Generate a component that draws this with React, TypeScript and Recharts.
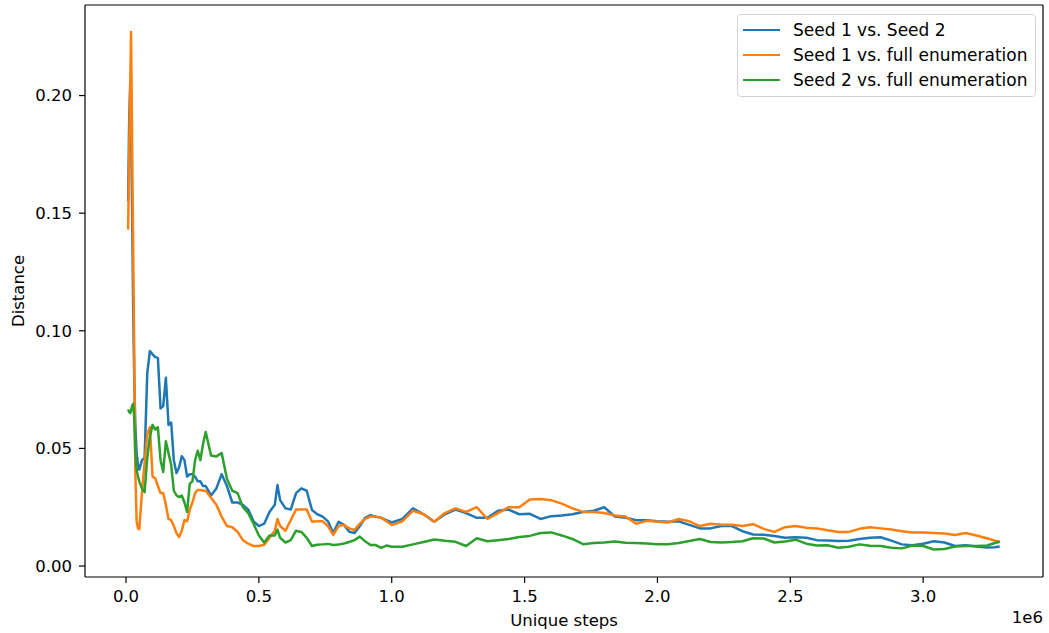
import { LineChart, Line, XAxis, YAxis, Legend, Label } from "recharts"

// unique steps, in millions (the axis shows the 1e6 offset)
const STEPS = [
  0.008, 0.012, 0.016, 0.019, 0.023, 0.027, 0.031, 0.035, 0.04, 0.045, 0.05,
  0.06, 0.07, 0.08, 0.09, 0.1, 0.11, 0.12, 0.13, 0.14, 0.15, 0.16, 0.17, 0.18, 0.19, 0.2,
  0.21, 0.22, 0.23, 0.24, 0.25, 0.26, 0.27, 0.28, 0.29, 0.3,
  0.32, 0.34, 0.36, 0.38, 0.4, 0.42, 0.44, 0.46, 0.48, 0.5, 0.52, 0.54, 0.56, 0.57, 0.58,
  0.6, 0.62, 0.64, 0.66, 0.68, 0.7, 0.72, 0.74, 0.76, 0.78, 0.8, 0.82, 0.84, 0.86, 0.88,
  0.9, 0.92, 0.94, 0.96, 0.98, 1.0,
  1.04, 1.08, 1.12, 1.16, 1.2, 1.24, 1.28, 1.32, 1.36, 1.4, 1.44, 1.48, 1.52, 1.56, 1.6,
  1.64, 1.68, 1.72, 1.76, 1.8, 1.84, 1.88, 1.92, 1.96, 2.0, 2.04, 2.08, 2.12, 2.16, 2.2,
  2.24, 2.28, 2.32, 2.36, 2.4, 2.44, 2.48, 2.52, 2.56, 2.6, 2.64, 2.68, 2.72, 2.76, 2.8,
  2.84, 2.88, 2.92, 2.96, 3.0, 3.04, 3.08, 3.12, 3.16, 3.2, 3.24, 3.27, 3.288,
]

const SEED1_VS_SEED2 = [
  0.155, 0.19, 0.205, 0.19, 0.15, 0.11, 0.08, 0.06, 0.048, 0.043, 0.041,
  0.045, 0.046, 0.082, 0.0914, 0.09, 0.0888, 0.0885, 0.067, 0.068, 0.08, 0.06, 0.061, 0.045, 0.0395, 0.042,
  0.0467, 0.045, 0.038, 0.039, 0.039, 0.038, 0.036, 0.036, 0.034, 0.034,
  0.03, 0.033, 0.039, 0.034, 0.027, 0.027, 0.026, 0.024, 0.019, 0.017, 0.018, 0.023, 0.026, 0.0344, 0.028,
  0.0245, 0.024, 0.031, 0.033, 0.032, 0.0238, 0.022, 0.021, 0.019, 0.014, 0.0188, 0.0175, 0.0146, 0.014, 0.017,
  0.0205, 0.0216, 0.021, 0.0205, 0.0195, 0.0185,
  0.02, 0.0245, 0.022, 0.0188, 0.022, 0.024, 0.0225, 0.0205, 0.0205, 0.0235, 0.024, 0.022, 0.0222, 0.02, 0.0212,
  0.0215, 0.022, 0.023, 0.0235, 0.025, 0.021, 0.0205, 0.0195, 0.0195, 0.019, 0.0188, 0.019, 0.0175, 0.016, 0.016,
  0.017, 0.017, 0.0148, 0.0134, 0.0133, 0.0128, 0.012, 0.0122, 0.012, 0.011, 0.0108, 0.0106, 0.0107, 0.0115, 0.012,
  0.0122, 0.0108, 0.0092, 0.0088, 0.0095, 0.0105, 0.01, 0.0085, 0.0088, 0.0083, 0.0079, 0.008, 0.0083,
]

const SEED1_VS_FULL = [
  0.143, 0.175, 0.205, 0.227, 0.18, 0.135, 0.09, 0.04, 0.019, 0.016, 0.0157,
  0.031, 0.044, 0.056, 0.059, 0.038, 0.0373, 0.034, 0.031, 0.031, 0.026, 0.02, 0.0195, 0.017, 0.014, 0.0123,
  0.015, 0.0195, 0.019, 0.024, 0.027, 0.031, 0.0323, 0.0323, 0.032, 0.032,
  0.029, 0.026, 0.021, 0.017, 0.0165, 0.0145, 0.011, 0.0095, 0.0085, 0.0085, 0.009, 0.012, 0.015, 0.02, 0.017,
  0.015, 0.0195, 0.024, 0.024, 0.024, 0.0188, 0.019, 0.019, 0.017, 0.0132, 0.017, 0.0175, 0.016, 0.0153, 0.018,
  0.02, 0.021, 0.021, 0.0205, 0.019, 0.0174,
  0.019, 0.0235, 0.022, 0.0188, 0.0225, 0.0245, 0.023, 0.025, 0.02, 0.0225, 0.025, 0.025, 0.0283, 0.0285, 0.028,
  0.0265, 0.0245, 0.023, 0.023, 0.0225, 0.0215, 0.021, 0.018, 0.0192, 0.0188, 0.0185, 0.02, 0.019, 0.017, 0.018,
  0.0175, 0.0175, 0.017, 0.0178, 0.0158, 0.0145, 0.0165, 0.017, 0.0163, 0.016, 0.0152, 0.0145, 0.0145, 0.0158, 0.0165,
  0.016, 0.0155, 0.0148, 0.0142, 0.0142, 0.014, 0.0138, 0.0132, 0.014, 0.013, 0.0118, 0.0108, 0.0103,
]

const SEED2_VS_FULL = [
  0.0666, 0.0655, 0.065, 0.066, 0.068, 0.069, 0.063, 0.048, 0.041, 0.038, 0.036,
  0.033, 0.0314, 0.046, 0.055, 0.06, 0.058, 0.059, 0.045, 0.04, 0.053, 0.048, 0.043, 0.032, 0.03, 0.0293,
  0.03, 0.027, 0.023, 0.035, 0.036, 0.045, 0.049, 0.045, 0.052, 0.057,
  0.047, 0.0466, 0.048, 0.037, 0.032, 0.031, 0.025, 0.0225, 0.018, 0.013, 0.01, 0.013, 0.013, 0.0155, 0.012,
  0.01, 0.011, 0.015, 0.0145, 0.012, 0.0085, 0.009, 0.0092, 0.0094, 0.0089, 0.0091, 0.0096, 0.0102, 0.011, 0.0125,
  0.0105, 0.0089, 0.0089, 0.0077, 0.0087, 0.0082,
  0.0082, 0.0092, 0.0102, 0.0113, 0.0107, 0.0103, 0.0085, 0.0118, 0.0105, 0.011, 0.0115, 0.0123, 0.0128, 0.014, 0.0143,
  0.013, 0.0115, 0.0093, 0.0098, 0.01, 0.0104, 0.0099, 0.0098, 0.0096, 0.0093, 0.0093, 0.0098, 0.0106, 0.0115, 0.0102,
  0.01, 0.0102, 0.0105, 0.0118, 0.0117, 0.01, 0.0104, 0.0112, 0.0095, 0.0087, 0.0088, 0.0078, 0.0082, 0.0092, 0.0086,
  0.0085, 0.0078, 0.0075, 0.0087, 0.0085, 0.007, 0.0072, 0.0083, 0.0085, 0.0085, 0.0087, 0.0098, 0.0103,
]

const X_TICKS = [0, 0.5, 1, 1.5, 2, 2.5, 3]
const Y_TICKS = [0, 0.05, 0.1, 0.15, 0.2]

const SERIES = [
  { key: "s1s2", name: "Seed 1 vs. Seed 2", color: "#1f77b4" },
  { key: "s1full", name: "Seed 1 vs. full enumeration", color: "#ff7f0e" },
  { key: "s2full", name: "Seed 2 vs. full enumeration", color: "#2ca02c" },
]

const data = STEPS.map((x, i) => ({
  x,
  s1s2: SEED1_VS_SEED2[i],
  s1full: SEED1_VS_FULL[i],
  s2full: SEED2_VS_FULL[i],
}))

const FONT = "'DejaVu Sans', sans-serif"
const FONT_SIZE = 16.5
const tickStyle = { fontSize: FONT_SIZE, fill: "#000", fontFamily: FONT }
const X_DOMAIN = [-0.1543, 3.451]
const Y_DOMAIN = [-0.00467, 0.2385]
const frame = { stroke: "#000", strokeWidth: 1.2 }

function LegendBox() {
  return (
    <div
      style={{
        width: 297,
        border: "1px solid #d4d4d4",
        borderRadius: 4,
        background: "rgba(255,255,255,0.8)",
        padding: "2px 0 4px 0",
        fontFamily: FONT,
        fontSize: 17,
        color: "#000",
      }}
    >
      {SERIES.map((s) => (
        <div key={s.key} style={{ display: "flex", alignItems: "center", height: 25 }}>
          <span
            style={{
              display: "inline-block",
              width: 37,
              borderTop: `2.5px solid ${s.color}`,
              marginLeft: 5,
              marginRight: 13,
            }}
          />
          <span>{s.name}</span>
        </div>
      ))}
    </div>
  )
}

export default function App() {
  return (
    <div style={{ position: "absolute", left: 0, top: 0, background: "#fff" }}>
      <LineChart width={1049} height={633} data={data} margin={{ top: 4, right: 5, left: 0, bottom: 0 }}>
        <XAxis
          dataKey="x"
          type="number"
          domain={X_DOMAIN}
          allowDataOverflow
          ticks={X_TICKS}
          tickFormatter={(v: number) => v.toFixed(1)}
          tick={tickStyle}
          tickSize={6}
          tickMargin={7}
          height={56}
          axisLine={frame}
          tickLine={frame}
        >
          <Label value="Unique steps" position="center" dy={15} fontSize={FONT_SIZE} fill="#000" fontFamily={FONT} />
          <Label
            value="1e6"
            position="insideBottomRight"
            offset={10}
            dx={10}
            fontSize={FONT_SIZE}
            fill="#000"
            fontFamily={FONT}
          />
        </XAxis>
        {/* top and right spines */}
        <XAxis
          xAxisId="top"
          orientation="top"
          dataKey="x"
          type="number"
          domain={X_DOMAIN}
          allowDataOverflow
          ticks={X_TICKS}
          height={1}
          tick={false}
          tickLine={false}
          axisLine={frame}
        />
        <YAxis
          type="number"
          domain={Y_DOMAIN}
          allowDataOverflow
          ticks={Y_TICKS}
          tickFormatter={(v: number) => v.toFixed(2)}
          tick={tickStyle}
          tickSize={6}
          tickMargin={7}
          width={85}
          axisLine={frame}
          tickLine={frame}
        >
          <Label value="Distance" angle={-90} position="center" dx={-24} fontSize={FONT_SIZE} fill="#000" fontFamily={FONT} />
        </YAxis>
        <YAxis
          yAxisId="right"
          orientation="right"
          type="number"
          domain={Y_DOMAIN}
          allowDataOverflow
          ticks={Y_TICKS}
          width={1}
          tick={false}
          tickLine={false}
          axisLine={frame}
        />
        {SERIES.map((s) => (
          <Line
            key={s.key}
            type="linear"
            dataKey={s.key}
            name={s.name}
            stroke={s.color}
            strokeWidth={2.5}
            strokeLinejoin="round"
            dot={false}
            activeDot={false}
            isAnimationActive={false}
          />
        ))}
        <Legend
          layout="vertical"
          align="center"
          verticalAlign="middle"
          content={() => <LegendBox />}
          wrapperStyle={{ top: 14, left: 737, right: "auto", bottom: "auto", width: 299 }}
        />
      </LineChart>
    </div>
  )
}
